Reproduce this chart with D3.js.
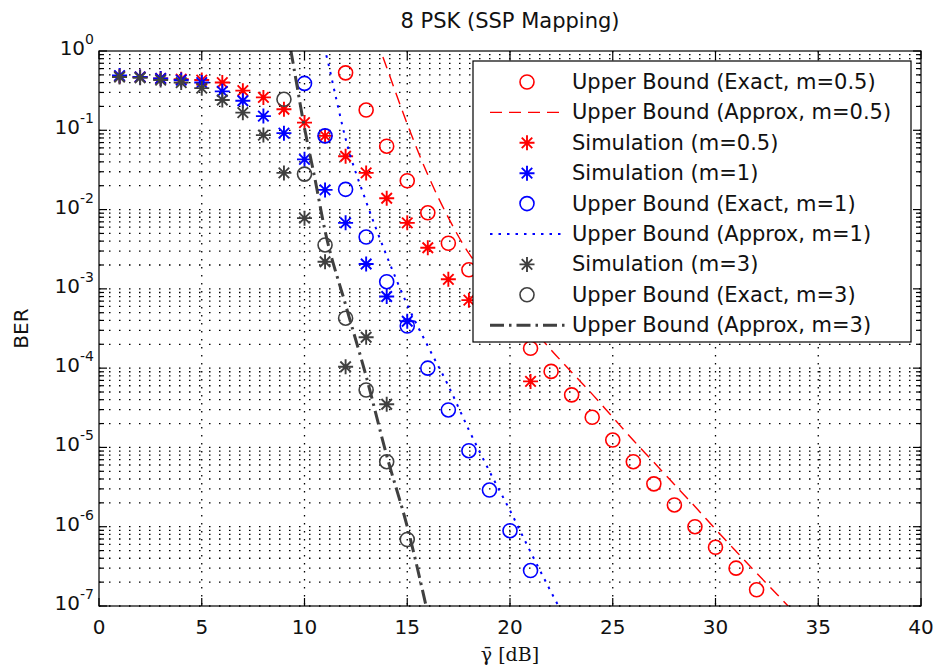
<!DOCTYPE html>
<html>
<head>
<meta charset="utf-8">
<script src="https://cdnjs.cloudflare.com/ajax/libs/d3/7.8.5/d3.min.js"></script>
<style>
body { margin: 0; background: #fff; }
text { font-family: "DejaVu Sans", sans-serif; fill: #111; }
</style>
</head>
<body>
<div id="chart"></div>
<script>
// ---- data (SNR in dB, BER) ----
var snrSimHalf = [1,2,3,4,5,6,7,8,9,10,11,12,13,14,15,16,17,18,19,20,21];
var berSimHalf = [0.48,0.47,0.45,0.44,0.43,0.40,0.316,0.26,0.184,0.125,0.085,0.047,0.029,0.0139,0.0068,0.0033,0.00132,7.2e-4,4.0e-4,2.8e-4,6.8e-5];

var snrSimOne = [1,2,3,4,5,6,7,8,9,10,11,12,13,14,15];
var berSimOne = [0.49,0.47,0.45,0.43,0.40,0.31,0.236,0.151,0.092,0.043,0.0177,0.0068,0.00206,8.0e-4,3.9e-4];

var snrSimThree = [1,2,3,4,5,6,7,8,9,10,11,12,13,14];
var berSimThree = [0.47,0.46,0.43,0.40,0.34,0.241,0.167,0.087,0.029,0.0078,0.0022,1.04e-4,2.45e-4,3.5e-5];

var snrExactHalf = [12,13,14,15,16,17,18,19,20,21,22,23,24,25,26,27,28,29,30,31,32];
var berExactHalf = [0.53,0.18,0.063,0.0231,0.0091,0.00376,0.00174,8.3e-4,3.8e-4,1.78e-4,9.1e-5,4.6e-5,2.4e-5,1.24e-5,6.6e-6,3.47e-6,1.88e-6,1.0e-6,5.5e-7,3.0e-7,1.6e-7];

var snrExactOne = [10,11,12,13,14,15,16,17,18,19,20,21];
var berExactOne = [0.39,0.085,0.018,0.0045,0.00123,3.4e-4,1.0e-4,2.97e-5,9.1e-6,2.9e-6,8.9e-7,2.8e-7];

var snrExactThree = [9,10,11,12,13,14,15];
var berExactThree = [0.246,0.028,0.00358,4.26e-4,5.3e-5,6.6e-6,6.9e-7];

var snrApproxHalf = [13.5,14,15,16,17,18,19,20,21,22,23,24,25,26,27,28,29,30,31,32,33,34];
var berApproxHalf = [1.41,0.62,0.12,0.0275,0.0079,0.0028,0.00135,6.8e-4,3.4e-4,1.7e-4,8.9e-5,4.7e-5,2.4e-5,1.23e-5,6.5e-6,3.4e-6,1.8e-6,9.3e-7,4.9e-7,2.6e-7,1.4e-7,7.4e-8];

var snrApproxOne = [10.8,11,11.5,12,13,14,15,16,17,18,19,20,21,22,22.5];
var berApproxOne = [1.4,1.0,0.28,0.078,0.0126,0.0026,6.3e-4,1.9e-4,6.0e-5,1.66e-5,5.0e-6,1.6e-6,4.8e-7,1.5e-7,8.5e-8];

var snrApproxThree = [9.1,9.34,9.5,10,10.5,11,12,13,14,15,16];
var berApproxThree = [2.2,1.0,0.58,0.107,0.025,0.0054,6.3e-4,7.9e-5,7.9e-6,1.0e-6,8e-8];

var xTicks = [0,5,10,15,20,25,30,35,40];
var yExponents = [0,-1,-2,-3,-4,-5,-6,-7];

var legendLabels = [
    "Upper Bound (Exact, m=0.5)",
    "Upper Bound (Approx, m=0.5)",
    "Simulation (m=0.5)",
    "Simulation (m=1)",
    "Upper Bound (Exact, m=1)",
    "Upper Bound (Approx, m=1)",
    "Simulation (m=3)",
    "Upper Bound (Exact, m=3)",
    "Upper Bound (Approx, m=3)"
];

var RED = "#ff0000", BLUE = "#0000ff", GRAY = "#404040";

function zip(a, b) { return a.map(function(v, i) { return [v, b[i]]; }); }

// series in matlab plot order (same as legend)
var series = [
    {data: zip(snrExactHalf, berExactHalf), kind: "circle", color: RED},
    {data: zip(snrApproxHalf, berApproxHalf), kind: "line", color: RED, dash: "12,7", width: 1.4},
    {data: zip(snrSimHalf, berSimHalf), kind: "star", color: RED},
    {data: zip(snrSimOne, berSimOne), kind: "star", color: BLUE},
    {data: zip(snrExactOne, berExactOne), kind: "circle", color: BLUE},
    {data: zip(snrApproxOne, berApproxOne), kind: "line", color: BLUE, dash: "2.5,6", width: 2},
    {data: zip(snrSimThree, berSimThree), kind: "star", color: GRAY},
    {data: zip(snrExactThree, berExactThree), kind: "circle", color: GRAY},
    {data: zip(snrApproxThree, berApproxThree), kind: "line", color: GRAY, dash: "14,5,2.5,5", width: 3}
];

var margin = {top: 51, right: 14, bottom: 60, left: 99},
    width = 935 - margin.left - margin.right,
    height = 666 - margin.top - margin.bottom;

var svg = d3.select("#chart")
    .append("svg")
    .attr("width", 935)
    .attr("height", 666);

svg.append("rect").attr("width", 935).attr("height", 666).attr("fill", "#fff");

var g = svg.append("g")
    .attr("transform", "translate(" + margin.left + "," + margin.top + ")");

var x = d3.scaleLinear().domain([0, 40]).range([0, width]);
var y = d3.scaleLog().domain([1e-7, 1]).range([height, 0]);

// grid values: every 1..9 x decade
var yGrid = [];
yExponents.forEach(function(e) {
    if (e === 0) return;
    [1,2,3,4,5,6,7,8,9].forEach(function(m) { yGrid.push(m * Math.pow(10, e)); });
});

g.append("g").selectAll("line")
    .data(yGrid)
    .enter().append("line")
    .attr("x1", 0).attr("x2", width)
    .attr("y1", function(d) { return y(d); })
    .attr("y2", function(d) { return y(d); })
    .attr("stroke", "#000")
    .attr("stroke-width", 1.3)
    .attr("stroke-dasharray", "1.5,8.5");

g.append("g").selectAll("line")
    .data(xTicks.slice(1, -1))
    .enter().append("line")
    .attr("x1", function(d) { return x(d); })
    .attr("x2", function(d) { return x(d); })
    .attr("y1", 0).attr("y2", height)
    .attr("stroke", "#000")
    .attr("stroke-width", 1.3)
    .attr("stroke-dasharray", "1.5,6.5");

// clip for the curves
svg.append("defs").append("clipPath").attr("id", "plotclip")
    .append("rect").attr("width", width).attr("height", height);

var line = d3.line()
    .x(function(d) { return x(d[0]); })
    .y(function(d) { return y(d[1]); })
    .curve(d3.curveMonotoneX);

var R = 7;
function starPath(r) {
    var a = r * 0.7;
    return "M" + (-r) + ",0H" + r + "M0," + (-r) + "V" + r +
        "M" + (-a) + "," + (-a) + "L" + a + "," + a +
        "M" + (-a) + "," + a + "L" + a + "," + (-a);
}

function drawMarker(sel, kind, color) {
    if (kind === "circle") {
        sel.append("circle").attr("r", R)
            .attr("fill", "none").attr("stroke", color).attr("stroke-width", 1.6);
    } else {
        sel.append("path").attr("d", starPath(R + 0.5))
            .attr("fill", "none").attr("stroke", color).attr("stroke-width", 1.9);
    }
}

var plot = g.append("g").attr("clip-path", "url(#plotclip)");

series.forEach(function(s) {
    if (s.kind === "line") {
        plot.append("path")
            .datum(s.data)
            .attr("d", line)
            .attr("fill", "none")
            .attr("stroke", s.color)
            .attr("stroke-width", s.width)
            .attr("stroke-dasharray", s.dash);
    } else {
        var pts = plot.append("g").selectAll("g")
            .data(s.data.filter(function(d) { return d[1] <= 1; }))
            .enter().append("g")
            .attr("transform", function(d) { return "translate(" + x(d[0]) + "," + y(d[1]) + ")"; });
        drawMarker(pts, s.kind, s.color);
    }
});

// frame
g.append("rect").attr("width", width).attr("height", height)
    .attr("fill", "none").attr("stroke", "#000").attr("stroke-width", 1.2);

// x ticks (inside, top and bottom)
var xt = g.append("g").selectAll("g").data(xTicks).enter().append("g");
xt.append("line")
    .attr("x1", function(d) { return x(d); }).attr("x2", function(d) { return x(d); })
    .attr("y1", height).attr("y2", height - 8)
    .attr("stroke", "#000").attr("stroke-width", 1.2);
xt.append("line")
    .attr("x1", function(d) { return x(d); }).attr("x2", function(d) { return x(d); })
    .attr("y1", 0).attr("y2", 8)
    .attr("stroke", "#000").attr("stroke-width", 1.2);
xt.append("text")
    .attr("x", function(d) { return x(d); })
    .attr("y", height + 28)
    .attr("text-anchor", "middle")
    .style("font-size", "20px")
    .text(function(d) { return d; });

// y ticks (inside, left and right)
var yTickVals = yGrid.concat([1]);
var yt = g.append("g").selectAll("g").data(yTickVals).enter().append("g");
function isDecade(d) { return Math.abs(Math.log10(d) - Math.round(Math.log10(d))) < 1e-9; }
yt.append("line")
    .attr("x1", 0).attr("x2", function(d) { return isDecade(d) ? 8 : 5; })
    .attr("y1", function(d) { return y(d); }).attr("y2", function(d) { return y(d); })
    .attr("stroke", "#000").attr("stroke-width", 1.2);
yt.append("line")
    .attr("x1", width).attr("x2", function(d) { return width - (isDecade(d) ? 8 : 5); })
    .attr("y1", function(d) { return y(d); }).attr("y2", function(d) { return y(d); })
    .attr("stroke", "#000").attr("stroke-width", 1.2);

var ylab = g.append("g").selectAll("text").data(yExponents).enter().append("text")
    .attr("x", -5)
    .attr("y", function(d) { return y(Math.pow(10, d)) + 4; })
    .attr("text-anchor", "end")
    .style("font-size", "20px");
ylab.append("tspan").text("10");
ylab.append("tspan")
    .attr("dy", -11)
    .style("font-size", "14px")
    .text(function(d) { return d; });

// axis labels and title
svg.append("text")
    .attr("x", margin.left + width / 2)
    .attr("y", 28)
    .attr("text-anchor", "middle")
    .style("font-size", "21px")
    .text("8 PSK (SSP Mapping)");

svg.append("text")
    .attr("x", margin.left + width / 2)
    .attr("y", 661)
    .attr("text-anchor", "middle")
    .style("font-family", "'DejaVu Serif', serif")
    .style("font-size", "19px")
    .text("\u03b3\u0304 [dB]");

svg.append("text")
    .attr("transform", "translate(28," + (margin.top + height / 2) + ")rotate(-90)")
    .attr("text-anchor", "middle")
    .style("font-size", "20px")
    .text("BER");

// legend
var legend = svg.append("g").attr("transform", "translate(473,61)");
legend.append("rect")
    .attr("width", 438).attr("height", 281)
    .attr("fill", "#fff").attr("stroke", "#000").attr("stroke-width", 1.2);

var rows = legend.selectAll("g.row")
    .data(series)
    .enter().append("g")
    .attr("class", "row")
    .attr("transform", function(d, i) { return "translate(0," + (21 + i * 30.4) + ")"; });

rows.each(function(s, i) {
    var r = d3.select(this);
    if (s.kind === "line") {
        r.append("line")
            .attr("x1", 17).attr("x2", 92)
            .attr("stroke", s.color)
            .attr("stroke-width", s.width)
            .attr("stroke-dasharray", s.dash);
    } else {
        var m = r.append("g").attr("transform", "translate(54,0)");
        drawMarker(m, s.kind, s.color);
    }
    r.append("text")
        .attr("x", 99)
        .attr("y", 7)
        .style("font-size", "21px")
        .text(legendLabels[i]);
});
</script>
</body>
</html>
